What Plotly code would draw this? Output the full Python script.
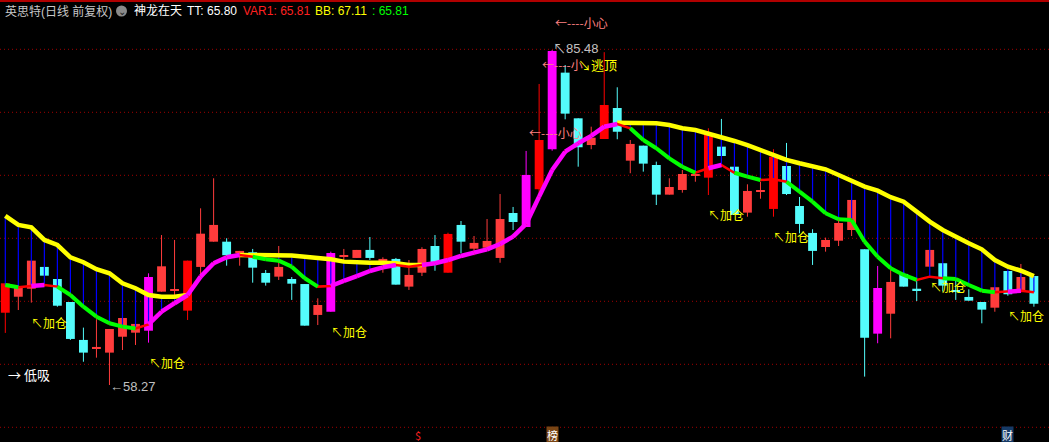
import plotly.graph_objects as go

# ---------------- data (daily OHLC, 80 sessions) ----------------
opens = [64.14, 65.44, 66.09, 67.86, 66.88, 65.01, 61.93, 61.22, 60.90, 62.19,
         62.52, 62.68, 65.85, 65.93, 64.31, 67.86, 69.91, 69.91, 68.97, 69.05,
         67.37, 67.07, 66.88, 66.47, 63.96, 64.22, 68.67, 68.59, 69.24, 68.26,
         68.51, 66.26, 67.39, 69.56, 67.39, 71.27, 69.34, 69.42, 68.59, 72.24,
         71.10, 74.17, 77.42, 83.64, 79.93, 77.76, 78.25, 80.77, 76.49, 77.71,
         76.14, 73.73, 74.11, 75.30, 75.11, 77.63, 76.00, 72.27, 73.97, 72.57,
         76.06, 72.81, 70.62, 69.48, 69.99, 70.86, 69.29, 62.44, 64.06, 67.29,
         66.07, 67.88, 68.16, 65.96, 65.42, 65.01, 64.55, 67.53, 65.91, 67.12]
highs = [66.53, 66.39, 68.37, 67.86, 66.88, 65.01, 62.93, 63.61, 62.82, 63.71,
         63.23, 67.34, 70.45, 70.05, 68.37, 72.62, 75.06, 70.19, 69.16, 69.32,
         67.61, 69.56, 67.04, 66.47, 65.31, 69.10, 69.32, 69.24, 70.29, 68.64,
         68.59, 68.42, 69.46, 70.45, 70.64, 71.59, 70.37, 71.75, 73.78, 72.73,
         77.28, 82.72, 85.48, 84.26, 79.93, 79.25, 85.30, 82.45, 78.17, 77.71,
         76.41, 75.06, 75.73, 75.73, 79.12, 79.88, 76.00, 74.57, 74.78, 77.42,
         77.93, 73.54, 70.92, 70.24, 71.73, 73.30, 69.29, 67.94, 67.61, 67.47,
         66.86, 69.24, 68.16, 66.94, 66.04, 65.01, 66.21, 67.53, 68.10, 67.12]
lows = [62.50, 64.36, 64.96, 67.15, 64.63, 61.93, 60.16, 60.49, 58.27, 61.11,
        61.52, 61.71, 65.85, 65.18, 63.55, 67.21, 69.91, 67.96, 67.96, 66.58,
        66.34, 66.80, 65.18, 63.09, 63.14, 64.22, 68.29, 68.59, 68.42, 67.39,
        66.42, 65.99, 67.12, 67.55, 67.39, 68.97, 68.81, 69.42, 68.20, 70.86,
        71.10, 73.30, 77.30, 79.85, 76.00, 77.42, 78.25, 78.23, 75.47, 75.60,
        72.89, 73.73, 73.89, 74.78, 73.70, 76.87, 72.08, 71.94, 73.40, 71.94,
        73.70, 70.59, 68.02, 69.10, 69.56, 70.37, 58.95, 61.66, 62.06, 66.26,
        65.09, 67.88, 65.85, 65.18, 65.12, 63.28, 64.22, 65.52, 65.91, 64.63]
closes = [66.53, 66.26, 68.37, 67.15, 64.71, 62.01, 60.90, 61.36, 62.82, 63.71,
          63.23, 67.04, 67.91, 66.04, 68.37, 70.56, 71.27, 68.81, 69.16, 67.80,
          66.58, 67.86, 66.50, 63.09, 64.77, 68.99, 68.83, 69.24, 68.59, 68.51,
          66.42, 67.21, 69.32, 68.18, 70.54, 69.91, 69.81, 69.97, 71.75, 71.51,
          75.33, 78.17, 85.40, 80.31, 77.58, 78.36, 81.01, 78.84, 77.85, 76.25,
          73.73, 74.35, 75.41, 75.41, 78.58, 76.87, 72.08, 74.03, 74.09, 76.81,
          73.78, 71.35, 69.16, 70.05, 71.43, 73.30, 62.11, 66.15, 66.64, 66.26,
          65.99, 69.24, 66.34, 65.88, 65.12, 64.39, 66.21, 65.64, 67.04, 64.87]

# BB (yellow) - only shown where it lies above TT
bb = [72.00, 71.27, 71.08, 70.05, 69.64, 68.64, 68.24, 67.67, 67.34, 66.53,
      66.13, 65.58, 65.44, 65.44, 65.58, None, None, None, 68.83, 68.83,
      68.83, 68.83, 68.79, 68.69, 68.61, 68.48, 68.29, 68.20, 68.20, 68.20,
      68.16, 68.02, 68.02, None, None, None, None, None, None, None,
      None, None, None, None, None, None, None, 79.58, 79.58, 79.58,
      79.53, 79.39, 79.12, 78.98, 78.71, 78.44, 78.09, 77.76, 77.36, 76.95,
      76.55, 76.28, 76.00, 75.79, 75.33, 74.84, 74.38, 74.05, 73.52, 73.16,
      72.35, 71.54, 70.86, 70.37, 69.78, 69.29, 68.42, 67.88, 67.55, 67.11]
# TT / VAR1 trend line
tt = [66.39, 66.21, 66.31, 66.39, 66.26, 65.58, 64.63, 63.82, 63.28, 63.01,
      62.86, 63.19, 64.22, 64.91, 65.58, 67.07, 68.16, 68.64, 68.83, 68.69,
      68.48, 68.37, 67.88, 66.94, 66.26, 66.31, 66.72, 67.12, 67.53, 67.83,
      68.02, 67.88, 68.02, 68.16, 68.42, 68.75, 69.02, 69.29, 69.72, 70.32,
      71.35, 73.57, 75.73, 77.22, 77.90, 78.50, 79.25, 79.47, 79.12, 78.17,
      77.50, 76.68, 76.00, 75.51, 75.87, 76.14, 75.51, 75.19, 74.92, 74.98,
      74.78, 73.97, 73.16, 72.22, 71.73, 71.67, 69.91, 68.69, 67.75, 67.21,
      66.80, 67.07, 66.94, 66.88, 66.39, 65.93, 65.80, 65.85, 65.93, 65.81]

strong_days = [0, 14, 34, 41, 46, 54, 59]
signal_days = [11, 25, 40, 42, 67]
add_days = [2, 11, 25, 54, 59, 71, 77]
low_day = 8
high_day = 42
event_marks = [("$", 32, "#FF2020", None), ("榜", 42, "#FFFFFF", "#7A4514"), ("财", 77, "#FFFFFF", "#163A66")]
header = [("英思特(日线 前复权)", 3, "#C8C8C8"), ("神龙在天", 132, "#FFFFFF"),
          ("TT: 65.80", 185, "#FFFFFF"), ("VAR1: 65.81", 241, "#FF2020"),
          ("BB: 67.11", 313, "#FFFF00"), (": 65.81", 370, "#00FF00")]

# ---------------- figure ----------------
W, H = 1049, 442
N = len(closes)
xs = list(range(N))
X0, X1 = -0.407, 80.16
Y0, Y1 = 53.64, 89.54

UP, STRONG, DOWN, SIG = "#FF3C3C", "#FF0000", "#54FCFC", "#FF00FF"
CJK = "Noto Sans CJK SC, Liberation Sans, sans-serif"
NUM = "Liberation Sans, Noto Sans CJK SC, sans-serif"

def cat(i):
    if i in signal_days:
        return SIG
    if closes[i] >= opens[i]:
        return STRONG if i in strong_days else UP
    return DOWN

fig = go.Figure()
groups = {}
for i in xs:
    groups.setdefault(cat(i), []).append(i)

for color, idx in groups.items():
    wx, wy = [], []
    for i in idx:
        wx += [i, i, None]
        wy += [lows[i], highs[i], None]
    fig.add_trace(go.Scatter(x=wx, y=wy, mode="lines", line=dict(color=color, width=1),
                             hoverinfo="skip", showlegend=False))
    hts = [max(abs(closes[i] - opens[i]), 0.12) for i in idx]
    bases = [(opens[i] + closes[i]) / 2 - h / 2 for i, h in zip(idx, hts)]
    fig.add_trace(go.Bar(x=idx, y=hts, base=bases, width=0.68,
                         marker=dict(color=color, line=dict(width=0)),
                         hoverinfo="skip", showlegend=False))

# blue connectors where BB above TT
bx, by = [], []
for i in xs:
    if bb[i] is not None and bb[i] > tt[i] + 0.05:
        bx += [i, i, None]
        by += [tt[i], bb[i], None]
fig.add_trace(go.Scatter(x=bx, y=by, mode="lines", line=dict(color="#0000FF", width=1.2),
                         hoverinfo="skip", showlegend=False))

# yellow BB
fig.add_trace(go.Scatter(x=xs, y=bb, mode="lines", connectgaps=False,
                         line=dict(color="#FFFF00", width=4.5), hoverinfo="skip", showlegend=False))

# TT: red base, green falling, magenta rising
fig.add_trace(go.Scatter(x=xs, y=tt, mode="lines", line=dict(color="#FF0000", width=2.5),
                         hoverinfo="skip", showlegend=False))
gx, gy, mx, my = [], [], [], []
for i in range(1, N):
    d1 = tt[i] - tt[i - 1]
    d0 = tt[i - 1] - tt[i - 2] if i >= 2 else d1
    if d1 > 0 and d0 > 0:
        mx += [i - 1, i, None]; my += [tt[i - 1], tt[i], None]
    elif d1 < 0 and d0 < 0:
        gx += [i - 1, i, None]; gy += [tt[i - 1], tt[i], None]
fig.add_trace(go.Scatter(x=gx, y=gy, mode="lines", line=dict(color="#00FF00", width=4),
                         hoverinfo="skip", showlegend=False))
fig.add_trace(go.Scatter(x=mx, y=my, mode="lines", line=dict(color="#FF00FF", width=4.5),
                         hoverinfo="skip", showlegend=False))

ann = []
for d in add_days:
    ann.append(dict(x=d, y=lows[d], xref="x", yref="y", text="↖加仓", showarrow=False,
                    xanchor="left", yanchor="top", yshift=-9, xshift=-2,
                    font=dict(color="#FFFF00", size=12, family=CJK)))
ann.append(dict(x=low_day, y=lows[low_day], xref="x", yref="y", text="←" + f"{lows[low_day]:.2f}",
                showarrow=False, xanchor="left", yanchor="middle", xshift=-1, yshift=-1,
                font=dict(color="#C0C0C0", size=13, family=NUM)))
ann.append(dict(x=high_day, y=highs[high_day], xref="x", yref="y", text="↖" + f"{highs[high_day]:.2f}",
                showarrow=False, xanchor="left", yanchor="middle", xshift=-1, yshift=1,
                font=dict(color="#C0C0C0", size=13, family=NUM)))
ann.append(dict(x=6 / W, y=1 - 374 / H, xref="paper", yref="paper", text="→ 低吸", showarrow=False,
                xanchor="left", yanchor="middle", font=dict(color="#FFFFFF", size=13, family=CJK)))
# caution labels
for (xp, yp) in [(553, 22), (527, 132)]:
    ann.append(dict(x=xp / W, y=1 - yp / H, xref="paper", yref="paper", text="←----小心", showarrow=False,
                    xanchor="left", yanchor="middle", font=dict(color="#FF8080", size=12, family=CJK)))
ann.append(dict(x=540 / W, y=1 - 64 / H, xref="paper", yref="paper", text="←----小", showarrow=False,
                xanchor="left", yanchor="middle", font=dict(color="#FF8080", size=12, family=CJK)))
ann.append(dict(x=576 / W, y=1 - 64 / H, xref="paper", yref="paper", text="↘逃顶", showarrow=False,
                xanchor="left", yanchor="middle", font=dict(color="#FFFF00", size=13, family=CJK)))
# header
for txt, xp, col in header:
    ann.append(dict(x=xp / W, y=1 - 11 / H, xref="paper", yref="paper", text=txt, showarrow=False,
                    xanchor="left", yanchor="middle", font=dict(color=col, size=12, family=NUM)))
ann.append(dict(x=121.5 / W, y=1 - 11 / H, xref="paper", yref="paper", text="⌄", showarrow=False,
                xanchor="center", yanchor="middle", font=dict(color="#202020", size=10, family=NUM)))
# bottom event marks
for txt, d, col, bg in event_marks:
    a = dict(x=d, y=1 - 435 / H, xref="x", yref="paper", text=txt, showarrow=False,
             xanchor="center", yanchor="middle", font=dict(color=col, size=11, family=CJK),
             borderpad=0)
    if bg:
        a["bgcolor"] = bg
    else:
        a["xshift"] = -4
    ann.append(a)

shapes = []
for yp in [49.3, 112.3, 175.3, 238.3, 301.3, 364.3, 427.3]:
    shapes.append(dict(type="line", xref="paper", yref="paper", x0=0, x1=1, y0=1 - yp / H, y1=1 - yp / H,
                       line=dict(color="#A00000", width=1, dash="1px,3px"), layer="below"))
shapes.append(dict(type="line", xref="paper", yref="paper", x0=0, x1=1, y0=1 - 1 / H, y1=1 - 1 / H,
                   line=dict(color="#B00000", width=2)))
shapes.append(dict(type="circle", xref="paper", yref="paper", x0=116 / W, x1=127 / W,
                   y0=1 - 16.5 / H, y1=1 - 5.5 / H, fillcolor="#8A8A8A", line=dict(width=0)))

fig.update_layout(
    width=W, height=H, margin=dict(l=0, r=0, t=0, b=0),
    paper_bgcolor="#000000", plot_bgcolor="#000000",
    barmode="overlay", showlegend=False,
    xaxis=dict(range=[X0, X1], visible=False, showgrid=False, zeroline=False),
    yaxis=dict(range=[Y0, Y1], visible=False, showgrid=False, zeroline=False),
    annotations=ann, shapes=shapes,
)
fig.write_html("out.html", config={"displayModeBar": False},
               post_script="document.body.style.margin='0';document.body.style.background='#000';")
